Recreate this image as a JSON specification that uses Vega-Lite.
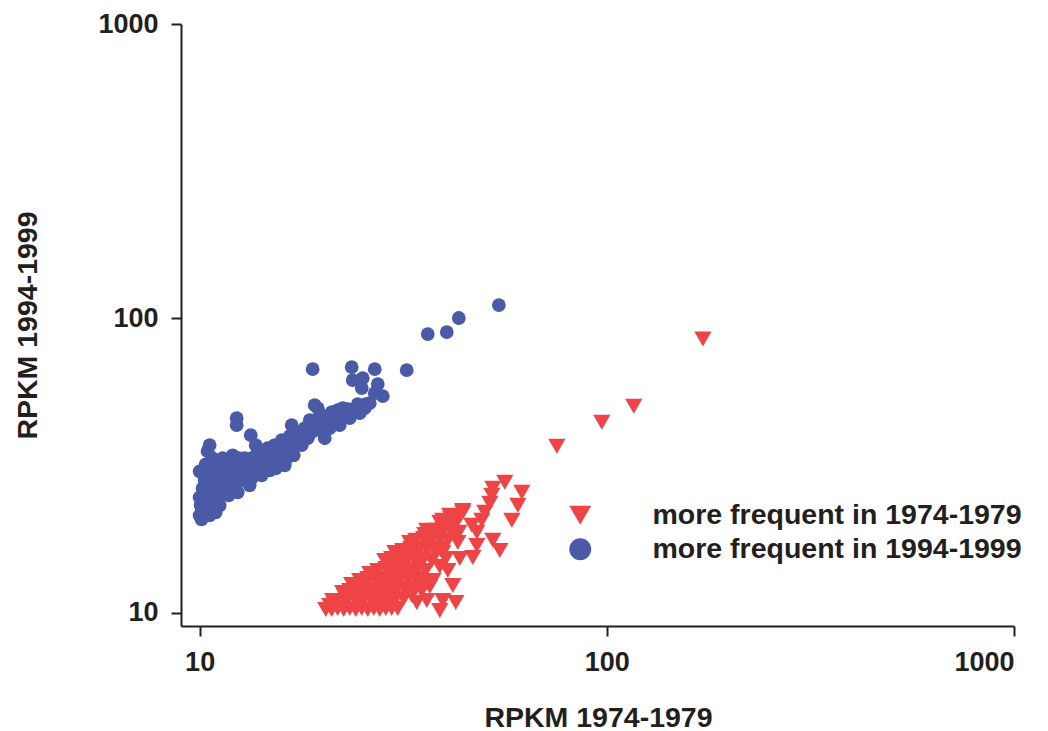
{
  "$schema": "https://vega.github.io/schema/vega-lite/v6.json",
  "width": 833,
  "height": 602,
  "autosize": {"type": "none"},
  "padding": {"left": 181, "top": 24, "right": 34, "bottom": 105},
  "background": "white",
  "config": {
    "view": {"stroke": null},
    "axis": {
      "domainColor": "#231f20", "domainWidth": 2,
      "tickColor": "#231f20", "tickWidth": 2, "tickSize": 10,
      "labelFont": "Liberation Sans", "labelFontWeight": "bold", "labelFontSize": 27, "labelColor": "#231f20",
      "titleFont": "Liberation Sans", "titleFontWeight": "bold", "titleFontSize": 28.5, "titleColor": "#231f20",
      "grid": false
    },
    "legend": {
      "labelFont": "Liberation Sans", "labelFontWeight": "bold", "labelFontSize": 28.5, "labelColor": "#231f20",
      "symbolSize": 480, "symbolStrokeWidth": 0, "symbolOpacity": 1, "labelOffset": 58, "rowPadding": 5, "padding": 0, "labelLimit": 600
    }
  },
  "data": {"values": [
    {"x": 10.00, "y": 30.20, "group": "more frequent in 1994-1999"},
    {"x": 10.00, "y": 24.63, "group": "more frequent in 1994-1999"},
    {"x": 10.00, "y": 21.39, "group": "more frequent in 1994-1999"},
    {"x": 10.11, "y": 20.73, "group": "more frequent in 1994-1999"},
    {"x": 10.06, "y": 23.13, "group": "more frequent in 1994-1999"},
    {"x": 10.17, "y": 26.43, "group": "more frequent in 1994-1999"},
    {"x": 10.29, "y": 28.14, "group": "more frequent in 1994-1999"},
    {"x": 10.23, "y": 22.24, "group": "more frequent in 1994-1999"},
    {"x": 10.40, "y": 24.06, "group": "more frequent in 1994-1999"},
    {"x": 10.46, "y": 25.42, "group": "more frequent in 1994-1999"},
    {"x": 10.46, "y": 35.33, "group": "more frequent in 1994-1999"},
    {"x": 10.58, "y": 37.03, "group": "more frequent in 1994-1999"},
    {"x": 10.35, "y": 31.90, "group": "more frequent in 1994-1999"},
    {"x": 10.70, "y": 30.44, "group": "more frequent in 1994-1999"},
    {"x": 10.82, "y": 27.71, "group": "more frequent in 1994-1999"},
    {"x": 10.89, "y": 25.02, "group": "more frequent in 1994-1999"},
    {"x": 10.70, "y": 22.77, "group": "more frequent in 1994-1999"},
    {"x": 11.07, "y": 26.43, "group": "more frequent in 1994-1999"},
    {"x": 11.20, "y": 29.04, "group": "more frequent in 1994-1999"},
    {"x": 11.01, "y": 24.06, "group": "more frequent in 1994-1999"},
    {"x": 11.14, "y": 31.65, "group": "more frequent in 1994-1999"},
    {"x": 10.76, "y": 33.44, "group": "more frequent in 1994-1999"},
    {"x": 11.33, "y": 25.62, "group": "more frequent in 1994-1999"},
    {"x": 11.46, "y": 27.71, "group": "more frequent in 1994-1999"},
    {"x": 11.27, "y": 30.44, "group": "more frequent in 1994-1999"},
    {"x": 11.52, "y": 32.41, "group": "more frequent in 1994-1999"},
    {"x": 10.95, "y": 21.90, "group": "more frequent in 1994-1999"},
    {"x": 11.72, "y": 28.58, "group": "more frequent in 1994-1999"},
    {"x": 11.85, "y": 30.44, "group": "more frequent in 1994-1999"},
    {"x": 11.99, "y": 26.85, "group": "more frequent in 1994-1999"},
    {"x": 12.19, "y": 32.41, "group": "more frequent in 1994-1999"},
    {"x": 12.33, "y": 29.27, "group": "more frequent in 1994-1999"},
    {"x": 12.54, "y": 30.92, "group": "more frequent in 1994-1999"},
    {"x": 12.33, "y": 45.76, "group": "more frequent in 1994-1999"},
    {"x": 12.33, "y": 43.31, "group": "more frequent in 1994-1999"},
    {"x": 12.68, "y": 28.14, "group": "more frequent in 1994-1999"},
    {"x": 12.90, "y": 33.44, "group": "more frequent in 1994-1999"},
    {"x": 12.40, "y": 25.62, "group": "more frequent in 1994-1999"},
    {"x": 12.05, "y": 34.23, "group": "more frequent in 1994-1999"},
    {"x": 12.83, "y": 29.96, "group": "more frequent in 1994-1999"},
    {"x": 11.78, "y": 25.02, "group": "more frequent in 1994-1999"},
    {"x": 13.35, "y": 40.05, "group": "more frequent in 1994-1999"},
    {"x": 13.12, "y": 31.65, "group": "more frequent in 1994-1999"},
    {"x": 13.42, "y": 28.58, "group": "more frequent in 1994-1999"},
    {"x": 13.65, "y": 32.92, "group": "more frequent in 1994-1999"},
    {"x": 13.88, "y": 30.44, "group": "more frequent in 1994-1999"},
    {"x": 14.04, "y": 35.05, "group": "more frequent in 1994-1999"},
    {"x": 14.20, "y": 29.27, "group": "more frequent in 1994-1999"},
    {"x": 14.44, "y": 33.44, "group": "more frequent in 1994-1999"},
    {"x": 14.69, "y": 36.17, "group": "more frequent in 1994-1999"},
    {"x": 13.27, "y": 27.06, "group": "more frequent in 1994-1999"},
    {"x": 13.73, "y": 37.03, "group": "more frequent in 1994-1999"},
    {"x": 14.52, "y": 31.41, "group": "more frequent in 1994-1999"},
    {"x": 14.86, "y": 30.44, "group": "more frequent in 1994-1999"},
    {"x": 15.03, "y": 34.23, "group": "more frequent in 1994-1999"},
    {"x": 15.29, "y": 37.03, "group": "more frequent in 1994-1999"},
    {"x": 15.55, "y": 32.92, "group": "more frequent in 1994-1999"},
    {"x": 15.73, "y": 35.05, "group": "more frequent in 1994-1999"},
    {"x": 15.91, "y": 38.51, "group": "more frequent in 1994-1999"},
    {"x": 16.18, "y": 31.65, "group": "more frequent in 1994-1999"},
    {"x": 16.45, "y": 36.17, "group": "more frequent in 1994-1999"},
    {"x": 16.64, "y": 39.73, "group": "more frequent in 1994-1999"},
    {"x": 16.83, "y": 43.31, "group": "more frequent in 1994-1999"},
    {"x": 17.02, "y": 34.23, "group": "more frequent in 1994-1999"},
    {"x": 17.32, "y": 37.91, "group": "more frequent in 1994-1999"},
    {"x": 17.61, "y": 41.00, "group": "more frequent in 1994-1999"},
    {"x": 15.38, "y": 30.92, "group": "more frequent in 1994-1999"},
    {"x": 17.81, "y": 37.03, "group": "more frequent in 1994-1999"},
    {"x": 18.12, "y": 42.31, "group": "more frequent in 1994-1999"},
    {"x": 18.43, "y": 39.11, "group": "more frequent in 1994-1999"},
    {"x": 18.64, "y": 45.05, "group": "more frequent in 1994-1999"},
    {"x": 18.85, "y": 41.00, "group": "more frequent in 1994-1999"},
    {"x": 19.17, "y": 50.67, "group": "more frequent in 1994-1999"},
    {"x": 19.50, "y": 49.49, "group": "more frequent in 1994-1999"},
    {"x": 19.72, "y": 43.31, "group": "more frequent in 1994-1999"},
    {"x": 19.94, "y": 46.85, "group": "more frequent in 1994-1999"},
    {"x": 20.29, "y": 39.11, "group": "more frequent in 1994-1999"},
    {"x": 20.63, "y": 45.76, "group": "more frequent in 1994-1999"},
    {"x": 20.87, "y": 42.31, "group": "more frequent in 1994-1999"},
    {"x": 21.11, "y": 47.96, "group": "more frequent in 1994-1999"},
    {"x": 21.47, "y": 45.05, "group": "more frequent in 1994-1999"},
    {"x": 21.83, "y": 48.72, "group": "more frequent in 1994-1999"},
    {"x": 22.08, "y": 43.31, "group": "more frequent in 1994-1999"},
    {"x": 22.46, "y": 49.49, "group": "more frequent in 1994-1999"},
    {"x": 22.85, "y": 46.85, "group": "more frequent in 1994-1999"},
    {"x": 23.11, "y": 49.10, "group": "more frequent in 1994-1999"},
    {"x": 23.37, "y": 45.76, "group": "more frequent in 1994-1999"},
    {"x": 24.04, "y": 48.72, "group": "more frequent in 1994-1999"},
    {"x": 24.45, "y": 51.07, "group": "more frequent in 1994-1999"},
    {"x": 18.95, "y": 67.15, "group": "more frequent in 1994-1999"},
    {"x": 23.63, "y": 68.21, "group": "more frequent in 1994-1999"},
    {"x": 26.92, "y": 67.15, "group": "more frequent in 1994-1999"},
    {"x": 32.25, "y": 66.63, "group": "more frequent in 1994-1999"},
    {"x": 23.76, "y": 61.63, "group": "more frequent in 1994-1999"},
    {"x": 25.15, "y": 62.60, "group": "more frequent in 1994-1999"},
    {"x": 25.01, "y": 57.90, "group": "more frequent in 1994-1999"},
    {"x": 27.38, "y": 59.74, "group": "more frequent in 1994-1999"},
    {"x": 26.92, "y": 55.66, "group": "more frequent in 1994-1999"},
    {"x": 36.33, "y": 88.38, "group": "more frequent in 1994-1999"},
    {"x": 40.45, "y": 89.78, "group": "more frequent in 1994-1999"},
    {"x": 43.30, "y": 100.2, "group": "more frequent in 1994-1999"},
    {"x": 54.31, "y": 110.9, "group": "more frequent in 1994-1999"},
    {"x": 28.17, "y": 54.36, "group": "more frequent in 1994-1999"},
    {"x": 26.17, "y": 51.46, "group": "more frequent in 1994-1999"},
    {"x": 25.44, "y": 49.49, "group": "more frequent in 1994-1999"},
    {"x": 24.73, "y": 47.58, "group": "more frequent in 1994-1999"},
    {"x": 10.23, "y": 24.44, "group": "more frequent in 1994-1999"},
    {"x": 10.52, "y": 27.06, "group": "more frequent in 1994-1999"},
    {"x": 10.64, "y": 28.58, "group": "more frequent in 1994-1999"},
    {"x": 10.95, "y": 29.96, "group": "more frequent in 1994-1999"},
    {"x": 11.39, "y": 33.44, "group": "more frequent in 1994-1999"},
    {"x": 11.59, "y": 30.44, "group": "more frequent in 1994-1999"},
    {"x": 11.92, "y": 32.41, "group": "more frequent in 1994-1999"},
    {"x": 12.12, "y": 28.14, "group": "more frequent in 1994-1999"},
    {"x": 12.47, "y": 33.44, "group": "more frequent in 1994-1999"},
    {"x": 12.97, "y": 31.41, "group": "more frequent in 1994-1999"},
    {"x": 13.42, "y": 33.44, "group": "more frequent in 1994-1999"},
    {"x": 13.88, "y": 35.05, "group": "more frequent in 1994-1999"},
    {"x": 14.28, "y": 32.41, "group": "more frequent in 1994-1999"},
    {"x": 14.69, "y": 34.23, "group": "more frequent in 1994-1999"},
    {"x": 15.20, "y": 35.61, "group": "more frequent in 1994-1999"},
    {"x": 15.82, "y": 37.03, "group": "more frequent in 1994-1999"},
    {"x": 16.36, "y": 33.44, "group": "more frequent in 1994-1999"},
    {"x": 17.12, "y": 36.74, "group": "more frequent in 1994-1999"},
    {"x": 17.91, "y": 39.11, "group": "more frequent in 1994-1999"},
    {"x": 18.54, "y": 41.65, "group": "more frequent in 1994-1999"},
    {"x": 19.28, "y": 45.05, "group": "more frequent in 1994-1999"},
    {"x": 20.06, "y": 41.00, "group": "more frequent in 1994-1999"},
    {"x": 21.23, "y": 45.76, "group": "more frequent in 1994-1999"},
    {"x": 22.08, "y": 47.21, "group": "more frequent in 1994-1999"},
    {"x": 23.63, "y": 47.96, "group": "more frequent in 1994-1999"},
    {"x": 25.59, "y": 51.07, "group": "more frequent in 1994-1999"},
    {"x": 11.20, "y": 23.13, "group": "more frequent in 1994-1999"},
    {"x": 10.58, "y": 21.39, "group": "more frequent in 1994-1999"},
    {"x": 20.41, "y": 10.24, "group": "more frequent in 1974-1979"},
    {"x": 21.11, "y": 10.24, "group": "more frequent in 1974-1979"},
    {"x": 21.83, "y": 10.32, "group": "more frequent in 1974-1979"},
    {"x": 22.59, "y": 10.24, "group": "more frequent in 1974-1979"},
    {"x": 23.37, "y": 10.32, "group": "more frequent in 1974-1979"},
    {"x": 24.18, "y": 10.24, "group": "more frequent in 1974-1979"},
    {"x": 25.01, "y": 10.32, "group": "more frequent in 1974-1979"},
    {"x": 25.88, "y": 10.24, "group": "more frequent in 1974-1979"},
    {"x": 26.77, "y": 10.32, "group": "more frequent in 1974-1979"},
    {"x": 27.69, "y": 10.24, "group": "more frequent in 1974-1979"},
    {"x": 28.65, "y": 10.32, "group": "more frequent in 1974-1979"},
    {"x": 29.63, "y": 10.32, "group": "more frequent in 1974-1979"},
    {"x": 30.65, "y": 10.32, "group": "more frequent in 1974-1979"},
    {"x": 38.89, "y": 10.16, "group": "more frequent in 1974-1979"},
    {"x": 42.58, "y": 10.81, "group": "more frequent in 1974-1979"},
    {"x": 39.56, "y": 10.99, "group": "more frequent in 1974-1979"},
    {"x": 36.13, "y": 10.99, "group": "more frequent in 1974-1979"},
    {"x": 34.14, "y": 10.81, "group": "more frequent in 1974-1979"},
    {"x": 21.23, "y": 10.99, "group": "more frequent in 1974-1979"},
    {"x": 22.08, "y": 10.99, "group": "more frequent in 1974-1979"},
    {"x": 23.11, "y": 11.16, "group": "more frequent in 1974-1979"},
    {"x": 24.18, "y": 10.99, "group": "more frequent in 1974-1979"},
    {"x": 25.30, "y": 11.16, "group": "more frequent in 1974-1979"},
    {"x": 26.47, "y": 10.99, "group": "more frequent in 1974-1979"},
    {"x": 27.69, "y": 11.16, "group": "more frequent in 1974-1979"},
    {"x": 28.97, "y": 10.99, "group": "more frequent in 1974-1979"},
    {"x": 30.32, "y": 11.16, "group": "more frequent in 1974-1979"},
    {"x": 31.72, "y": 11.16, "group": "more frequent in 1974-1979"},
    {"x": 22.46, "y": 11.70, "group": "more frequent in 1974-1979"},
    {"x": 23.37, "y": 11.88, "group": "more frequent in 1974-1979"},
    {"x": 24.45, "y": 11.88, "group": "more frequent in 1974-1979"},
    {"x": 25.59, "y": 11.98, "group": "more frequent in 1974-1979"},
    {"x": 26.77, "y": 11.88, "group": "more frequent in 1974-1979"},
    {"x": 28.01, "y": 12.07, "group": "more frequent in 1974-1979"},
    {"x": 29.30, "y": 11.88, "group": "more frequent in 1974-1979"},
    {"x": 30.65, "y": 12.07, "group": "more frequent in 1974-1979"},
    {"x": 32.08, "y": 11.88, "group": "more frequent in 1974-1979"},
    {"x": 33.57, "y": 12.07, "group": "more frequent in 1974-1979"},
    {"x": 35.12, "y": 11.88, "group": "more frequent in 1974-1979"},
    {"x": 23.63, "y": 12.46, "group": "more frequent in 1974-1979"},
    {"x": 24.73, "y": 12.85, "group": "more frequent in 1974-1979"},
    {"x": 25.88, "y": 13.06, "group": "more frequent in 1974-1979"},
    {"x": 27.07, "y": 12.85, "group": "more frequent in 1974-1979"},
    {"x": 28.33, "y": 13.06, "group": "more frequent in 1974-1979"},
    {"x": 29.63, "y": 12.85, "group": "more frequent in 1974-1979"},
    {"x": 31.01, "y": 13.06, "group": "more frequent in 1974-1979"},
    {"x": 32.44, "y": 12.85, "group": "more frequent in 1974-1979"},
    {"x": 33.95, "y": 13.06, "group": "more frequent in 1974-1979"},
    {"x": 35.52, "y": 12.85, "group": "more frequent in 1974-1979"},
    {"x": 37.39, "y": 12.85, "group": "more frequent in 1974-1979"},
    {"x": 36.75, "y": 12.26, "group": "more frequent in 1974-1979"},
    {"x": 26.17, "y": 13.58, "group": "more frequent in 1974-1979"},
    {"x": 27.38, "y": 13.90, "group": "more frequent in 1974-1979"},
    {"x": 28.65, "y": 14.12, "group": "more frequent in 1974-1979"},
    {"x": 29.97, "y": 13.90, "group": "more frequent in 1974-1979"},
    {"x": 31.36, "y": 14.12, "group": "more frequent in 1974-1979"},
    {"x": 32.81, "y": 13.90, "group": "more frequent in 1974-1979"},
    {"x": 34.34, "y": 14.12, "group": "more frequent in 1974-1979"},
    {"x": 35.93, "y": 13.90, "group": "more frequent in 1974-1979"},
    {"x": 40.70, "y": 13.90, "group": "more frequent in 1974-1979"},
    {"x": 38.89, "y": 14.34, "group": "more frequent in 1974-1979"},
    {"x": 28.49, "y": 15.03, "group": "more frequent in 1974-1979"},
    {"x": 29.63, "y": 15.27, "group": "more frequent in 1974-1979"},
    {"x": 31.01, "y": 15.03, "group": "more frequent in 1974-1979"},
    {"x": 32.44, "y": 15.27, "group": "more frequent in 1974-1979"},
    {"x": 33.95, "y": 15.03, "group": "more frequent in 1974-1979"},
    {"x": 35.52, "y": 15.27, "group": "more frequent in 1974-1979"},
    {"x": 37.17, "y": 15.03, "group": "more frequent in 1974-1979"},
    {"x": 40.24, "y": 15.27, "group": "more frequent in 1974-1979"},
    {"x": 41.87, "y": 12.36, "group": "more frequent in 1974-1979"},
    {"x": 43.55, "y": 15.27, "group": "more frequent in 1974-1979"},
    {"x": 30.15, "y": 16.01, "group": "more frequent in 1974-1979"},
    {"x": 31.54, "y": 16.26, "group": "more frequent in 1974-1979"},
    {"x": 33.00, "y": 16.52, "group": "more frequent in 1974-1979"},
    {"x": 34.53, "y": 16.26, "group": "more frequent in 1974-1979"},
    {"x": 36.13, "y": 16.52, "group": "more frequent in 1974-1979"},
    {"x": 37.81, "y": 16.26, "group": "more frequent in 1974-1979"},
    {"x": 39.56, "y": 16.01, "group": "more frequent in 1974-1979"},
    {"x": 46.87, "y": 15.39, "group": "more frequent in 1974-1979"},
    {"x": 54.62, "y": 16.26, "group": "more frequent in 1974-1979"},
    {"x": 32.81, "y": 17.31, "group": "more frequent in 1974-1979"},
    {"x": 33.95, "y": 17.59, "group": "more frequent in 1974-1979"},
    {"x": 35.52, "y": 17.86, "group": "more frequent in 1974-1979"},
    {"x": 37.17, "y": 17.59, "group": "more frequent in 1974-1979"},
    {"x": 38.89, "y": 17.86, "group": "more frequent in 1974-1979"},
    {"x": 40.70, "y": 17.59, "group": "more frequent in 1974-1979"},
    {"x": 43.06, "y": 17.31, "group": "more frequent in 1974-1979"},
    {"x": 47.95, "y": 16.91, "group": "more frequent in 1974-1979"},
    {"x": 52.49, "y": 17.59, "group": "more frequent in 1974-1979"},
    {"x": 35.72, "y": 18.43, "group": "more frequent in 1974-1979"},
    {"x": 36.13, "y": 19.02, "group": "more frequent in 1974-1979"},
    {"x": 37.81, "y": 19.02, "group": "more frequent in 1974-1979"},
    {"x": 39.56, "y": 19.32, "group": "more frequent in 1974-1979"},
    {"x": 41.39, "y": 19.02, "group": "more frequent in 1974-1979"},
    {"x": 43.30, "y": 18.73, "group": "more frequent in 1974-1979"},
    {"x": 46.61, "y": 19.78, "group": "more frequent in 1974-1979"},
    {"x": 47.95, "y": 18.73, "group": "more frequent in 1974-1979"},
    {"x": 38.89, "y": 20.25, "group": "more frequent in 1974-1979"},
    {"x": 39.56, "y": 20.57, "group": "more frequent in 1974-1979"},
    {"x": 41.39, "y": 20.89, "group": "more frequent in 1974-1979"},
    {"x": 42.82, "y": 21.06, "group": "more frequent in 1974-1979"},
    {"x": 44.29, "y": 21.90, "group": "more frequent in 1974-1979"},
    {"x": 49.32, "y": 20.57, "group": "more frequent in 1974-1979"},
    {"x": 50.17, "y": 21.90, "group": "more frequent in 1974-1979"},
    {"x": 58.46, "y": 20.57, "group": "more frequent in 1974-1979"},
    {"x": 51.61, "y": 23.50, "group": "more frequent in 1974-1979"},
    {"x": 52.20, "y": 25.02, "group": "more frequent in 1974-1979"},
    {"x": 52.49, "y": 26.43, "group": "more frequent in 1974-1979"},
    {"x": 56.18, "y": 27.71, "group": "more frequent in 1974-1979"},
    {"x": 60.48, "y": 23.13, "group": "more frequent in 1974-1979"},
    {"x": 61.86, "y": 25.62, "group": "more frequent in 1974-1979"},
    {"x": 44.29, "y": 22.24, "group": "more frequent in 1974-1979"},
    {"x": 22.08, "y": 10.65, "group": "more frequent in 1974-1979"},
    {"x": 24.73, "y": 11.52, "group": "more frequent in 1974-1979"},
    {"x": 27.69, "y": 12.46, "group": "more frequent in 1974-1979"},
    {"x": 31.01, "y": 13.68, "group": "more frequent in 1974-1979"},
    {"x": 34.73, "y": 14.80, "group": "more frequent in 1974-1979"},
    {"x": 38.89, "y": 16.52, "group": "more frequent in 1974-1979"},
    {"x": 42.34, "y": 18.29, "group": "more frequent in 1974-1979"},
    {"x": 20.87, "y": 10.56, "group": "more frequent in 1974-1979"},
    {"x": 21.47, "y": 10.65, "group": "more frequent in 1974-1979"},
    {"x": 22.72, "y": 11.34, "group": "more frequent in 1974-1979"},
    {"x": 24.04, "y": 11.70, "group": "more frequent in 1974-1979"},
    {"x": 25.44, "y": 12.36, "group": "more frequent in 1974-1979"},
    {"x": 26.92, "y": 13.36, "group": "more frequent in 1974-1979"},
    {"x": 29.30, "y": 14.45, "group": "more frequent in 1974-1979"},
    {"x": 31.90, "y": 15.64, "group": "more frequent in 1974-1979"},
    {"x": 33.76, "y": 16.52, "group": "more frequent in 1974-1979"},
    {"x": 35.72, "y": 17.59, "group": "more frequent in 1974-1979"},
    {"x": 37.81, "y": 18.29, "group": "more frequent in 1974-1979"},
    {"x": 40.01, "y": 19.78, "group": "more frequent in 1974-1979"},
    {"x": 41.16, "y": 21.39, "group": "more frequent in 1974-1979"},
    {"x": 42.34, "y": 19.78, "group": "more frequent in 1974-1979"},
    {"x": 30.15, "y": 12.36, "group": "more frequent in 1974-1979"},
    {"x": 32.81, "y": 13.36, "group": "more frequent in 1974-1979"},
    {"x": 34.73, "y": 12.36, "group": "more frequent in 1974-1979"},
    {"x": 28.49, "y": 11.43, "group": "more frequent in 1974-1979"},
    {"x": 24.73, "y": 10.73, "group": "more frequent in 1974-1979"},
    {"x": 26.92, "y": 10.73, "group": "more frequent in 1974-1979"},
    {"x": 29.30, "y": 10.73, "group": "more frequent in 1974-1979"},
    {"x": 33.19, "y": 11.43, "group": "more frequent in 1974-1979"},
    {"x": 75.39, "y": 36.74, "group": "more frequent in 1974-1979"},
    {"x": 97.21, "y": 44.34, "group": "more frequent in 1974-1979"},
    {"x": 116.5, "y": 50.27, "group": "more frequent in 1974-1979"},
    {"x": 172.2, "y": 84.99, "group": "more frequent in 1974-1979"}
  ]},
  "encoding": {
    "x": {
      "field": "x", "type": "quantitative",
      "scale": {"type": "log", "domain": [9, 1000], "nice": false},
      "axis": {"values": [10, 100, 1000], "format": "d", "labelPadding": 13,
               "title": "RPKM 1974-1979", "titleX": 417, "titleY": 100, "titleBaseline": "alphabetic", "titleAlign": "center"}
    },
    "y": {
      "field": "y", "type": "quantitative",
      "scale": {"type": "log", "domain": [9, 1000], "nice": false},
      "axis": {"values": [10, 100, 1000], "format": "d", "labelPadding": 13,
               "title": "RPKM 1994-1999", "titleX": -145, "titleY": 301, "titleAngle": 270, "titleBaseline": "alphabetic", "titleAlign": "center"}
    },
    "color": {
      "field": "group", "type": "nominal",
      "scale": {"domain": ["more frequent in 1974-1979", "more frequent in 1994-1999"], "range": ["#EF4446", "#4A5AA7"]},
      "legend": {"title": null, "orient": "none", "legendX": 385, "legendY": 477}
    },
    "shape": {
      "field": "group", "type": "nominal",
      "scale": {"domain": ["more frequent in 1974-1979", "more frequent in 1994-1999"], "range": ["triangle-down", "circle"]},
      "legend": {"title": null, "orient": "none", "legendX": 385, "legendY": 477}
    }
  },
  "layer": [
    {
      "transform": [{"filter": "datum.group === 'more frequent in 1994-1999'"}],
      "mark": {"type": "point", "filled": true, "opacity": 1, "strokeWidth": 0, "size": 190}
    },
    {
      "transform": [{"filter": "datum.group === 'more frequent in 1974-1979'"}],
      "mark": {"type": "point", "filled": true, "opacity": 1, "strokeWidth": 0, "size": 300}
    }
  ]
}
